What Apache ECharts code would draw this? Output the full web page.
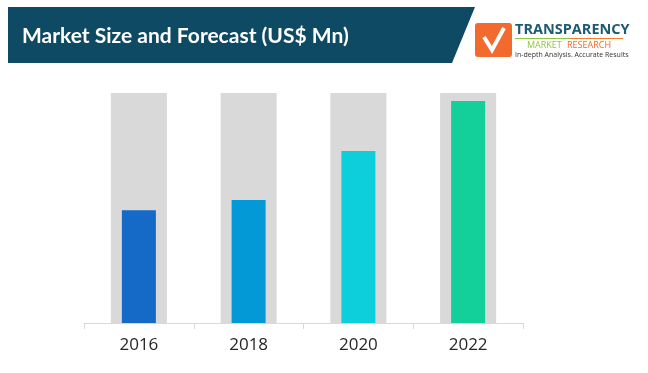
<!DOCTYPE html>
<html><head><meta charset="utf-8">
<script src="https://cdn.jsdelivr.net/npm/echarts@6/dist/echarts.min.js"></script>
<style>html,body{margin:0;padding:0;background:#fff}#c{width:648px;height:373px}</style>
</head><body><div id="c"></div>
<script>
const categories = ['2016', '2018', '2020', '2022'];
const values = [49, 53.5, 74.8, 96.5];
const backdrop = [100, 100, 100, 100];
const barColors = ['#1569C7', '#0399D6', '#0DCFDB', '#13CF9A'];
const titleText = 'Market Size and Forecast (US$ Mn)';

const chart = echarts.init(document.getElementById('c'));
chart.setOption({
  animation: false,
  grid: { left: 84, right: 125, top: 93, bottom: 50 },
  xAxis: [
    { type: 'category', data: categories,
      axisLine: { lineStyle: { color: '#D9D9D9', width: 1 } },
      axisTick: { show: true, length: 6, lineStyle: { color: '#D9D9D9' } },
      axisLabel: { color: '#262626', fontSize: 17, fontFamily: 'Open Sans', margin: 14 } },
    { type: 'category', data: categories, show: false }
  ],
  yAxis: { type: 'value', min: 0, max: 100, show: false, splitLine: { show: false } },
  series: [
    { type: 'bar', xAxisIndex: 1, data: backdrop, barWidth: 56, silent: true,
      itemStyle: { color: '#D9D9D9' }, z: 1 },
    { type: 'bar', xAxisIndex: 0, barWidth: 34, z: 2,
      data: values.map((v, i) => ({ value: v, itemStyle: { color: barColors[i] } })) }
  ],
  graphic: [
    { type: 'polygon', shape: { points: [[8,7],[475,7],[452,63],[8,63]] },
      style: { fill: '#0E4A63' } },
    { type: 'text', x: 22, y: 36,
      style: { text: titleText, fill: '#ffffff', font: 'bold 21px Lato', textVerticalAlign: 'middle' } },
    { type: 'rect', shape: { x: 475, y: 23, width: 37, height: 34, r: 3 },
      style: { fill: '#F26A2E' } },
    { type: 'polyline', shape: { points: [[484,37],[492,50],[504,28]] },
      style: { stroke: '#ffffff', lineWidth: 4, fill: null } },
    { type: 'text', x: 515, y: 30,
      style: { text: 'TRANSPARENCY', fill: '#1D5A73', font: 'bold 14.5px "Open Sans"', textVerticalAlign: 'middle' } },
    { type: 'line', shape: { x1: 515, y1: 38.5, x2: 569, y2: 38.5 },
      style: { stroke: '#8DC63F', lineWidth: 1 } },
    { type: 'line', shape: { x1: 569, y1: 38.5, x2: 623, y2: 38.5 },
      style: { stroke: '#F58220', lineWidth: 1 } },
    { type: 'text', x: 527, y: 45,
      style: { text: 'MARKET', fill: '#8DC63F', font: '9px "Open Sans"', textVerticalAlign: 'middle' } },
    { type: 'text', x: 567, y: 45,
      style: { text: 'RESEARCH', fill: '#F26522', font: '9px "Open Sans"', textVerticalAlign: 'middle' } },
    { type: 'text', x: 515, y: 55,
      style: { text: 'In-depth Analysis. Accurate Results', fill: '#333333', font: '7px "Open Sans"', textVerticalAlign: 'middle' } }
  ]
});
</script></body></html>
